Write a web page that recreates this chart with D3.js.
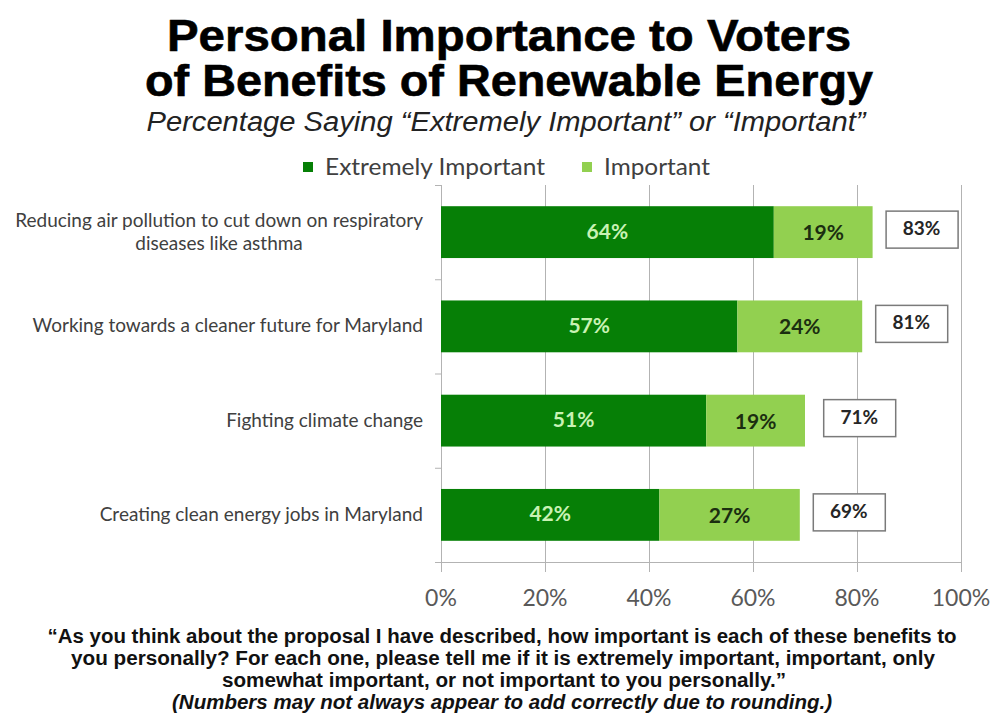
<!DOCTYPE html>
<html>
<head>
<meta charset="utf-8">
<script src="https://cdn.jsdelivr.net/npm/d3@7/dist/d3.min.js"></script>
<style>
  html, body { margin: 0; padding: 0; background: #fff; }
  svg { display: block; }
</style>
</head>
<body>
<svg id="chart" width="994" height="722"></svg>
<script>
// Survey results: share of voters rating each benefit as important
const categories = [
  "Reducing air pollution to cut down on respiratory diseases like asthma",
  "Working towards a cleaner future for Maryland",
  "Fighting climate change",
  "Creating clean energy jobs in Maryland"
];
const extremelyImportant = [64, 57, 51, 42];
const important = [19, 24, 19, 27];
const totals = [83, 81, 71, 69];
const seriesNames = ["Extremely Important", "Important"];
const xTicks = [0, 20, 40, 60, 80, 100];

const titleLines = ["Personal Importance to Voters", "of Benefits of Renewable Energy"];
const subtitle = "Percentage Saying \u201CExtremely Important\u201D or \u201CImportant\u201D";
const footerLines = [
  "\u201CAs you think about the proposal I have described, how important is each of these benefits to",
  "you personally?  For each one, please tell me if it is extremely important, important, only",
  "somewhat important, or not important to you personally.\u201D"
];
const footnote = "(Numbers may not always appear to add correctly due to rounding.)";

const colors = { dark: "#067f06", light: "#92d050" };
const sansFont = "Lato, 'Open Sans', 'Noto Sans', sans-serif";
const headFont = "'Liberation Sans', Arial, sans-serif";
const narrowFont = "'Liberation Sans Narrow', 'Liberation Sans', Arial, sans-serif";

const svg = d3.select("#chart");

// Plot area
const plot = { left: 441, right: 961, top: 185, bottom: 562 };

const x = d3.scaleLinear().domain([0, 100]).range([plot.left, plot.right]);
const y = d3.scaleBand().domain(categories).range([plot.top, plot.bottom])
  .paddingInner(0.45).paddingOuter(0.225);

// Title block
svg.append("g").selectAll("text").data(titleLines).join("text")
  .attr("x", 509).attr("y", (d, i) => 51 + i * 45)
  .attr("text-anchor", "middle")
  .attr("font-family", headFont).attr("font-weight", "bold")
  .attr("font-size", 44).attr("fill", "#000")
  .attr("stroke", "#000").attr("stroke-width", 0.6)
  .attr("textLength", (d, i) => i === 0 ? 684 : 728)
  .attr("lengthAdjust", "spacingAndGlyphs")
  .text(d => d);

svg.append("text")
  .attr("x", 506).attr("y", 131)
  .attr("text-anchor", "middle")
  .attr("font-family", headFont).attr("font-style", "italic")
  .attr("font-size", 27).attr("fill", "#222")
  .attr("textLength", 719).attr("lengthAdjust", "spacingAndGlyphs")
  .text(subtitle);

// Legend
const legend = svg.append("g").attr("font-family", sansFont).attr("font-size", 23).attr("fill", "#404040");
const legendItems = [
  { name: seriesNames[0], color: colors.dark, x: 303 },
  { name: seriesNames[1], color: colors.light, x: 582 }
];
legendItems.forEach(it => {
  legend.append("rect").attr("x", it.x).attr("y", 162).attr("width", 10).attr("height", 10).attr("fill", it.color);
  legend.append("text").attr("x", it.x + 22).attr("y", 175)
    .attr("textLength", it.name.length > 10 ? 220 : 106).attr("lengthAdjust", "spacingAndGlyphs")
    .text(it.name);
});

// Vertical gridlines with outward ticks below the axis
const gridColor = "#b3b3b3";
svg.append("g").selectAll("line").data(xTicks).join("line")
  .attr("x1", d => x(d) + 0.5).attr("x2", d => x(d) + 0.5)
  .attr("y1", plot.top).attr("y2", plot.bottom + 10)
  .attr("stroke", gridColor).attr("stroke-width", 1);

// Horizontal axis line
svg.append("line")
  .attr("x1", plot.left - 6).attr("x2", plot.right + 1)
  .attr("y1", plot.bottom + 0.5).attr("y2", plot.bottom + 0.5)
  .attr("stroke", gridColor).attr("stroke-width", 1.2);

// Category axis ticks at band boundaries
const boundaries = d3.range(categories.length + 1).map(i => plot.top + i * (plot.bottom - plot.top) / categories.length);
svg.append("g").selectAll("line").data(boundaries).join("line")
  .attr("x1", plot.left - 6).attr("x2", plot.left)
  .attr("y1", d => d + 0.5).attr("y2", d => d + 0.5)
  .attr("stroke", gridColor).attr("stroke-width", 1);

// X tick labels
svg.append("g").selectAll("text").data(xTicks).join("text")
  .attr("x", d => x(d)).attr("y", 606)
  .attr("text-anchor", "middle")
  .attr("font-family", sansFont).attr("font-size", 23).attr("fill", "#595959")
  .text(d => d + "%");

// Stacked bars
const rows = categories.map((c, i) => ({ cat: c, ei: extremelyImportant[i], im: important[i], total: totals[i] }));

const barG = svg.append("g");
barG.selectAll("rect.ei").data(rows).join("rect").attr("class", "ei")
  .attr("x", x(0)).attr("y", d => y(d.cat))
  .attr("width", d => x(d.ei) - x(0)).attr("height", y.bandwidth())
  .attr("fill", colors.dark);
barG.selectAll("rect.im").data(rows).join("rect").attr("class", "im")
  .attr("x", d => x(d.ei)).attr("y", d => y(d.cat))
  .attr("width", d => x(d.ei + d.im) - x(d.ei)).attr("height", y.bandwidth())
  .attr("fill", colors.light);

// Segment value labels
barG.selectAll("text.eil").data(rows).join("text").attr("class", "eil")
  .attr("x", d => (x(0) + x(d.ei)) / 2).attr("y", d => y(d.cat) + y.bandwidth() / 2 + 6.5)
  .attr("text-anchor", "middle")
  .attr("font-family", sansFont).attr("font-weight", "bold").attr("font-size", 21)
  .attr("fill", "#c9f2b4")
  .text(d => d.ei + "%");
barG.selectAll("text.iml").data(rows).join("text").attr("class", "iml")
  .attr("x", d => (x(d.ei) + x(d.ei + d.im)) / 2).attr("y", d => y(d.cat) + y.bandwidth() / 2 + 8)
  .attr("text-anchor", "middle")
  .attr("font-family", sansFont).attr("font-weight", "bold").attr("font-size", 21)
  .attr("fill", "#1b2e10")
  .text(d => d.im + "%");

// Total boxes to the right of each bar
const boxW = 72, boxH = 37;
const totalG = svg.append("g").selectAll("g").data(rows).join("g")
  .attr("transform", d => `translate(${x(d.total) + 13},${y(d.cat) + y.bandwidth() / 2 - boxH / 2 - 3})`);
totalG.append("rect")
  .attr("x", 0.5).attr("y", 0.5).attr("width", boxW).attr("height", boxH)
  .attr("fill", "#fff").attr("stroke", "#7a7a7a").attr("stroke-width", 1.5);
totalG.append("text")
  .attr("x", boxW / 2).attr("y", boxH / 2 + 6)
  .attr("text-anchor", "middle")
  .attr("font-family", sansFont).attr("font-weight", "bold").attr("font-size", 19)
  .attr("fill", "#262626")
  .text(d => d.total + "%");

// Category labels, wrapped and centred as a block, right-aligned to the axis
const labelRight = 423;
const catG = svg.append("g").attr("font-family", sansFont).attr("font-size", 19).attr("fill", "#404040");
rows.forEach(d => {
  const words = d.cat.split(" ");
  const maxW = 440;
  const probe = catG.append("text").attr("visibility", "hidden");
  const lines = [];
  let cur = [];
  words.forEach(w => {
    const test = cur.concat([w]).join(" ");
    probe.text(test);
    if (probe.node().getComputedTextLength() > maxW && cur.length) {
      lines.push(cur.join(" "));
      cur = [w];
    } else {
      cur.push(w);
    }
  });
  lines.push(cur.join(" "));
  const widths = lines.map(l => { probe.text(l); return probe.node().getComputedTextLength(); });
  probe.remove();
  const blockW = d3.max(widths);
  const cx = labelRight - blockW / 2;
  const lh = 23;
  const cy = y(d.cat) + y.bandwidth() / 2;
  lines.forEach((l, i) => {
    catG.append("text")
      .attr("x", cx).attr("y", cy + (i - (lines.length - 1) / 2) * lh + 6)
      .attr("text-anchor", "middle")
      .text(l);
  });
});

// Question wording and note
const footG = svg.append("g").attr("font-family", narrowFont).attr("font-weight", "bold").attr("fill", "#111");
const footWidths = [909, 864, 564];
const footCenters = [502, 503, 504];
footerLines.forEach((l, i) => {
  footG.append("text")
    .attr("x", footCenters[i]).attr("y", 643 + i * 22)
    .attr("text-anchor", "middle").attr("font-size", 20)
    .attr("textLength", footWidths[i]).attr("lengthAdjust", "spacingAndGlyphs")
    .text(l);
});
footG.append("text")
  .attr("x", 502).attr("y", 709)
  .attr("text-anchor", "middle").attr("font-size", 20).attr("font-style", "italic")
  .attr("textLength", 660).attr("lengthAdjust", "spacingAndGlyphs")
  .text(footnote);
</script>
</body>
</html>
